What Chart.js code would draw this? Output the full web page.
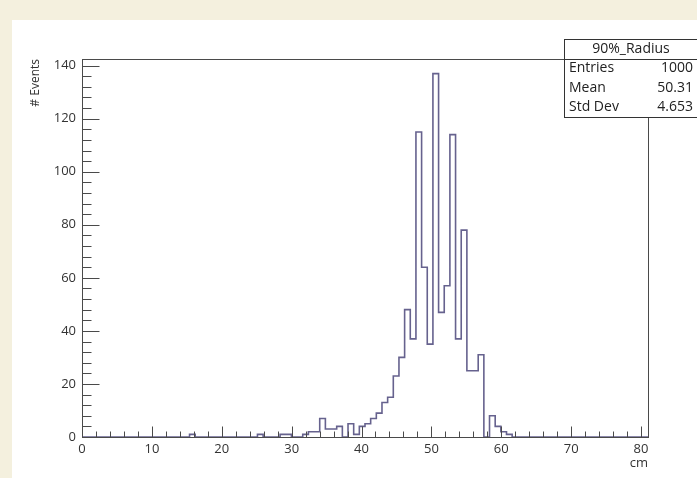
<!DOCTYPE html>
<html>
<head>
<meta charset="utf-8">
<script src="https://cdn.jsdelivr.net/npm/chart.js@4.4.1/dist/chart.umd.min.js"></script>
<style>
  html, body { margin: 0; padding: 0; width: 697px; height: 478px; overflow: hidden; background: #f4f0de; }
  #panel { position: absolute; left: 12px; top: 20px; width: 685px; height: 458px; background: #ffffff; }
  canvas { display: block; }
</style>
</head>
<body>
<div id="panel"><canvas id="hist" width="685" height="458"></canvas></div>
<script>
// Histogram definition: 100 equal bins over [xMin, xMax]
const histTitle = '90%_Radius';
const xMin = 0;
const xMax = 81;
const counts = [
  0, 0, 0, 0, 0, 0, 0, 0, 0, 0,
  0, 0, 0, 0, 0, 0, 0, 0, 0, 1,
  0, 0, 0, 0, 0, 0, 0, 0, 0, 0,
  0, 1, 0, 0, 0, 1, 1, 0, 0, 1,
  2, 2, 7, 3, 3, 4, 0, 5, 1, 4,
  5, 7, 9, 13, 15, 23, 30, 48, 37, 115,
  64, 35, 137, 47, 57, 114, 37, 78, 25, 25,
  31, 0, 8, 4, 2, 1, 0, 0, 0, 0,
  0, 0, 0, 0, 0, 0, 0, 0, 0, 0,
  0, 0, 0, 0, 0, 0, 0, 0, 0, 0
];

// Axis labels and statistics box contents
const xTickLabels = [0, 10, 20, 30, 40, 50, 60, 70, 80];
const yTickLabels = [0, 20, 40, 60, 80, 100, 120, 140];
const xTitle = 'cm';
const yTitle = '# Events';
const statNames = ['Entries', 'Mean', 'Std Dev'];
const statValues = ['1000', '50.31', '4.653'];

const yMax = 142.5;
const xMinorStep = 2;
const yMinorStep = 4;

const FONT = "'Open Sans', 'Noto Sans', sans-serif";
const LINE_COLOR = '#66628e';
const AXIS_COLOR = '#4a4a4a';
const TEXT_COLOR = '#333333';

// Step outline: each bin's left edge carries its content, the last edge closes the outline
const binWidth = (xMax - xMin) / counts.length;
const outline = counts.map((v, i) => ({ x: xMin + i * binWidth, y: v }));
outline.push({ x: xMax, y: counts[counts.length - 1] });

const rootStyleFrame = {
  id: 'rootStyleFrame',
  afterDatasetsDraw(chart) {
    const { ctx, chartArea: a, scales: { x, y } } = chart;
    ctx.save();
    ctx.strokeStyle = AXIS_COLOR;
    ctx.lineWidth = 1;
    ctx.strokeRect(Math.round(a.left) + 0.5, Math.round(a.top) + 0.5,
                   Math.round(a.right - a.left), Math.round(a.bottom - a.top));

    const bottom = Math.round(a.bottom) + 0.5;
    const left = Math.round(a.left) + 0.5;
    ctx.beginPath();
    // x axis ticks point up into the frame
    for (let v = xMin; v <= xMax + 1e-9; v += xMinorStep) {
      const px = Math.round(x.getPixelForValue(v)) + 0.5;
      const major = xTickLabels.includes(v);
      ctx.moveTo(px, bottom);
      ctx.lineTo(px, bottom - (major ? 11 : 6));
    }
    // y axis ticks point right into the frame
    for (let v = 0; v <= yMax + 1e-9; v += yMinorStep) {
      const py = Math.round(y.getPixelForValue(v)) + 0.5;
      const major = yTickLabels.includes(v);
      ctx.moveTo(left, py);
      ctx.lineTo(left + (major ? 17 : 9), py);
    }
    ctx.stroke();
    ctx.restore();
  },
  afterDraw(chart) {
    const { ctx, chartArea: a } = chart;
    ctx.save();
    ctx.fillStyle = TEXT_COLOR;
    ctx.font = '13px ' + FONT;

    // x axis title, right aligned to the end of the axis
    ctx.textAlign = 'right';
    ctx.textBaseline = 'middle';
    ctx.fillText(xTitle, a.right, 443);

    // y axis title, rotated, aligned to the top of the axis
    ctx.save();
    ctx.translate(24, a.top);
    ctx.rotate(-Math.PI / 2);
    ctx.font = '12px ' + FONT;
    ctx.textAlign = 'right';
    ctx.textBaseline = 'middle';
    ctx.fillText(yTitle, 0, 0);
    ctx.restore();

    // statistics box
    const bx = 552, by = 19, bw = 140, bh = 78;
    const rowH = bh / (statNames.length + 1);
    ctx.fillStyle = '#ffffff';
    ctx.fillRect(bx, by, bw, bh);
    ctx.strokeStyle = '#333333';
    ctx.lineWidth = 1;
    ctx.strokeRect(bx + 0.5, by + 0.5, bw, bh);
    ctx.beginPath();
    ctx.moveTo(bx, Math.round(by + rowH) + 0.5);
    ctx.lineTo(bx + bw, Math.round(by + rowH) + 0.5);
    ctx.stroke();

    ctx.fillStyle = '#222222';
    ctx.font = '14px ' + FONT;
    ctx.textBaseline = 'middle';
    ctx.textAlign = 'center';
    ctx.fillText(histTitle, bx + 67, by + rowH / 2);
    statNames.forEach((name, i) => {
      const cy = by + rowH * (i + 1.5);
      ctx.textAlign = 'left';
      ctx.fillText(name, bx + 5, cy);
      ctx.textAlign = 'right';
      ctx.fillText(statValues[i], bx + 129, cy);
    });
    ctx.restore();
  }
};

const noEdgePadding = (scale) => {
  scale.paddingLeft = 0;
  scale.paddingRight = 0;
  scale.paddingTop = 0;
  scale.paddingBottom = 0;
};

new Chart(document.getElementById('hist'), {
  type: 'line',
  data: {
    datasets: [{
      label: histTitle,
      data: outline,
      stepped: 'before',
      borderColor: LINE_COLOR,
      borderWidth: 1.6,
      pointRadius: 0,
      fill: false,
      tension: 0
    }]
  },
  options: {
    responsive: false,
    animation: false,
    events: [],
    layout: { padding: { left: 0, top: 39, right: 49, bottom: 0 } },
    plugins: { legend: { display: false }, tooltip: { enabled: false }, title: { display: false } },
    scales: {
      x: {
        type: 'linear',
        min: xMin,
        max: xMax,
        grid: { display: false, drawTicks: false },
        border: { display: false },
        afterBuildTicks: (s) => { s.ticks = xTickLabels.map(v => ({ value: v })); },
        afterFit: (s) => { s.height = 41; noEdgePadding(s); },
        ticks: {
          autoSkip: false, maxRotation: 0, padding: 4,
          color: TEXT_COLOR, font: { family: FONT, size: 13 }
        }
      },
      y: {
        type: 'linear',
        min: 0,
        max: yMax,
        grid: { display: false, drawTicks: false },
        border: { display: false },
        afterBuildTicks: (s) => { s.ticks = yTickLabels.map(v => ({ value: v })); },
        afterFit: (s) => { s.width = 70; noEdgePadding(s); },
        ticks: {
          autoSkip: false, padding: 6,
          color: TEXT_COLOR, font: { family: FONT, size: 13 }
        }
      }
    }
  },
  plugins: [rootStyleFrame]
});
</script>
</body>
</html>
